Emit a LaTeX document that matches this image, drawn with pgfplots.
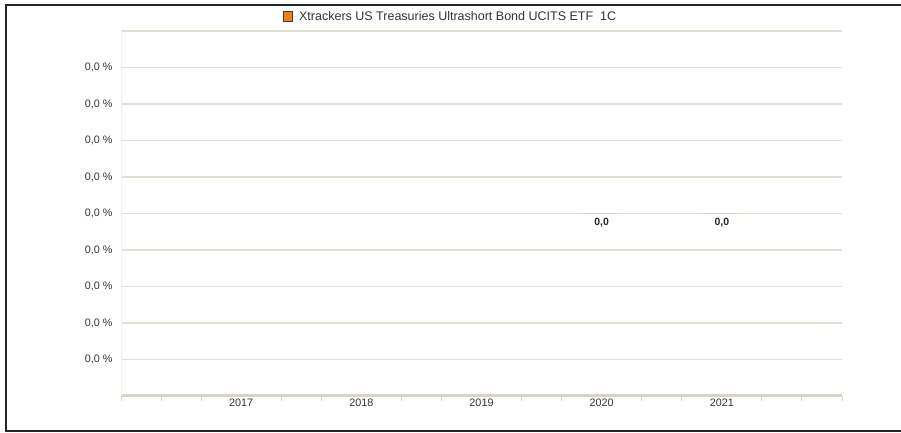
\documentclass[border=0pt]{standalone}
\usepackage{pgfplots}
\pgfplotsset{compat=1.18}
\usepackage{fontspec}
\setmainfont{Liberation Sans}
\definecolor{gridc}{HTML}{E2DFD8}
\definecolor{axisc}{HTML}{D8D3C6}
\definecolor{barorange}{HTML}{F07F1A}
\definecolor{txt}{HTML}{333333}
\begin{document}
\begin{tikzpicture}[x=1pt,y=1pt]
\useasboundingbox (0,0) rectangle (901,433);
\fill[white] (0,0) rectangle (901,433);
\draw[black!85, line width=2pt] (901,428) -- (5.5,428) -- (5.5,1.5) -- (901,1.5);
\begin{axis}[
  at={(121pt,37pt)}, anchor=south west,
  scale only axis, width=721pt, height=365pt,
  xmin=-1, xmax=5, ymin=-5, ymax=5,
  axis x line*=bottom, axis y line*=left,
  x axis line style={draw=axisc, line width=3pt},
  y axis line style={draw=gridc!40, line width=0.8pt},
  xtick={0,1,2,3,4},
  xticklabels={2017,2018,2019,2020,2021},
  major tick length=0pt,
  ytick={-4,-3,-2,-1,0,1,2,3,4,5},
  yticklabels={0{,}0 \%,0{,}0 \%,0{,}0 \%,0{,}0 \%,0{,}0 \%,0{,}0 \%,0{,}0 \%,0{,}0 \%,0{,}0 \%,},
  ymajorgrids,
  grid style={draw=gridc, line width=1.5pt},
  extra x ticks={-1,-0.6667,-0.3333,0.3333,0.6667,1.3333,1.6667,2.3333,2.6667,3.3333,3.6667,4.3333,4.6667,5},
  extra x tick labels={},
  extra x tick style={major tick length=5pt, tick align=outside, tick style={draw=axisc, line width=1pt}, grid=none},
  tick label style={font=\fontsize{10.8}{12}\selectfont, text=txt},
  yticklabel style={xshift=-5pt},
  xticklabel style={yshift=1pt},
  legend style={at={(0.457,1.066)}, anchor=north, draw=none, fill=none,
    font=\fontsize{12.5}{14}\selectfont, text=txt, legend cell align=left},
  legend image code/.code={\path (0pt,0pt) -- (14pt,0pt); \draw[fill=barorange, draw=black!75, line width=0.6pt] (0pt,-4.5pt) rectangle (9.5pt,5pt);},
  clip=false,
]
\addplot[ybar, bar width=40pt, fill=barorange, draw=none,
  nodes near coords={\textbf{0,0}},
  every node near coord/.append style={anchor=north, yshift=-1pt, font=\fontsize{10.5}{12}\selectfont, text=black!85}]
  coordinates {(3,0) (4,0)};
\addlegendentry{Xtrackers US Treasuries Ultrashort Bond UCITS ETF\ \ 1C}
\end{axis}
\end{tikzpicture}
\end{document}
